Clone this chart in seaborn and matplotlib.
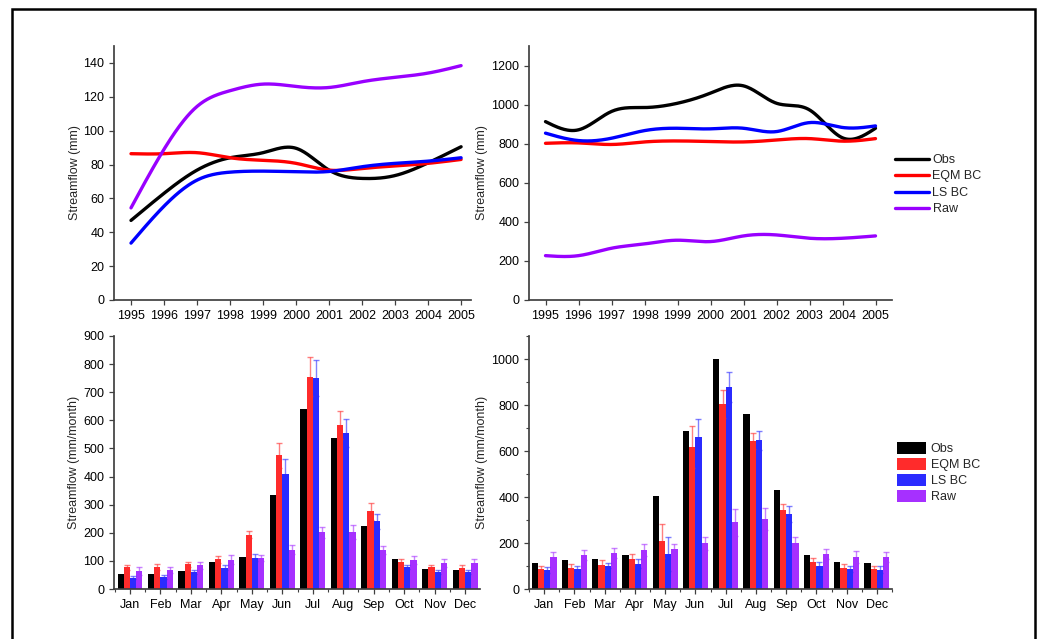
import numpy as np
import pandas as pd
import matplotlib
matplotlib.use("Agg")
import matplotlib.pyplot as plt
import seaborn as sns
from matplotlib.ticker import MultipleLocator
from matplotlib.patches import Patch, Rectangle
from matplotlib.lines import Line2D

sns.set_theme(style="ticks")
plt.rcParams['font.family'] = ['Liberation Sans', 'DejaVu Sans']
plt.rcParams['axes.edgecolor'] = '#404040'
plt.rcParams['xtick.color'] = '#404040'
plt.rcParams['ytick.color'] = '#404040'
plt.rcParams['xtick.labelcolor'] = 'black'
plt.rcParams['ytick.labelcolor'] = 'black'

series = ["Obs", "EQM BC", "LS BC", "Raw"]
years = list(range(1995, 2006))
months = ["Jan", "Feb", "Mar", "Apr", "May", "Jun",
          "Jul", "Aug", "Sep", "Oct", "Nov", "Dec"]

# Annual streamflow (mm), left catchment
obs_l = [47, 63, 76.7, 84, 87, 89.6, 76.7, 71.8, 73.5, 81, 90.5]
eqm_l = [86.4, 86.4, 87, 84, 82.5, 80.7, 76.7, 77.7, 79.1, 80.7, 83]
ls_l = [33.6, 55.4, 70.8, 75.5, 76.1, 75.7, 75.9, 78.7, 80.7, 82, 84]
raw_l = [54.4, 89, 114.3, 123.6, 127.5, 126.1, 125.5, 128.9, 131.5, 134, 138.4]

# Annual streamflow (mm), right catchment
obs_r = [913, 871, 965, 985, 1007, 1059, 1096, 1007, 973, 830, 879]
eqm_r = [802, 804, 796, 809, 814, 811, 809, 819, 826, 813, 826]
ls_r = [854, 816, 828, 867, 879, 876, 879, 862, 908, 883, 891]
raw_r = [227, 227, 265, 287, 306, 299, 328, 333, 316, 316, 328]

# Mean monthly streamflow (mm/month), left catchment
mobs_l = [53, 53, 63, 97, 114, 333, 641, 537, 223, 105, 72, 67]
meqm_l = [77, 78, 88, 106, 193, 475, 755, 583, 277, 97, 77, 74]
mls_l = [40, 42, 60, 75, 112, 408, 750, 555, 241, 78, 60, 60]
mraw_l = [64, 68, 84, 104, 110, 140, 201, 203, 138, 104, 92, 92]
eeqm_l = [10, 10, 9, 12, 12, 43, 70, 51, 30, 11, 10, 12]
els_l = [6, 8, 6, 9, 14, 55, 65, 49, 27, 8, 8, 8]
eraw_l = [13, 12, 13, 16, 12, 15, 21, 24, 14, 15, 13, 13]

# Mean monthly streamflow (mm/month), right catchment
mobs_r = [113, 126, 130, 150, 404, 685, 1000, 763, 429, 147, 117, 113]
meqm_r = [88, 91, 105, 130, 209, 619, 804, 644, 343, 117, 91, 88]
mls_r = [81, 87, 101, 110, 152, 662, 880, 646, 325, 101, 87, 84]
mraw_r = [139, 149, 156, 170, 173, 199, 290, 303, 202, 153, 139, 139]
eeqm_r = [14, 17, 21, 22, 74, 91, 60, 34, 28, 16, 17, 14]
els_r = [13, 11, 10, 20, 72, 78, 65, 41, 34, 16, 11, 14]
eraw_r = [21, 21, 23, 26, 23, 29, 58, 48, 25, 23, 25, 23]

line_colors = {"Obs": "#000000", "EQM BC": "#FF0000",
               "LS BC": "#0000FF", "Raw": "#9900FF"}
bar_colors = {"Obs": "#000000", "EQM BC": "#FF2B2B",
              "LS BC": "#2B2BFF", "Raw": "#A630FF"}


def smooth(x, y, n=300):
    """Natural cubic spline through the yearly values, for a smooth line."""
    x = np.asarray(x, float)
    y = np.asarray(y, float)
    k = len(x)
    h = np.diff(x)
    A = np.zeros((k, k))
    b = np.zeros(k)
    A[0, 0] = A[-1, -1] = 1
    for i in range(1, k - 1):
        A[i, i - 1] = h[i - 1]
        A[i, i] = 2 * (h[i - 1] + h[i])
        A[i, i + 1] = h[i]
        b[i] = 6 * ((y[i + 1] - y[i]) / h[i] - (y[i] - y[i - 1]) / h[i - 1])
    M = np.linalg.solve(A, b)
    xs = np.linspace(x[0], x[-1], n)
    idx = np.clip(np.searchsorted(x, xs) - 1, 0, k - 2)
    x0, x1 = x[idx], x[idx + 1]
    hh = x1 - x0
    t0, t1 = x1 - xs, xs - x0
    ys = (M[idx] * t0 ** 3 / (6 * hh) + M[idx + 1] * t1 ** 3 / (6 * hh)
          + (y[idx] / hh - M[idx] * hh / 6) * t0
          + (y[idx + 1] / hh - M[idx + 1] * hh / 6) * t1)
    return xs, ys


W, H = 1041, 639
fig = plt.figure(figsize=(W / 100, H / 100), dpi=100)
fig.patch.set_facecolor("white")


def px_axes(left, right, top, bottom):
    return fig.add_axes([left / W, 1 - bottom / H, (right - left) / W, (bottom - top) / H])


ax_tl = px_axes(114, 471, 46, 300)
ax_tr = px_axes(529, 892, 46, 300)
ax_bl = px_axes(114, 480, 336, 589)
ax_br = px_axes(529, 892, 336, 589)

FS = 9


def annual(ax, vals, ylim, step, xlim):
    for name, v in zip(series, vals):
        xs, ys = smooth(years, v)
        df = pd.DataFrame({"Year": xs, "Streamflow": ys})
        sns.lineplot(data=df, x="Year", y="Streamflow", color=line_colors[name],
                     lw=2.4, ax=ax, legend=False)
    ax.set_xlim(*xlim)
    ax.set_ylim(*ylim)
    ax.set_xticks(years)
    ax.yaxis.set_major_locator(MultipleLocator(step))
    ax.set_xlabel("")
    ax.set_ylabel("Streamflow (mm)", fontsize=FS)
    ax.tick_params(labelsize=FS, length=3.5, width=0.9, direction="out")
    sns.despine(ax=ax)


annual(ax_tl, [obs_l, eqm_l, ls_l, raw_l], (0, 150), 20, (1994.485, 2005.3))
annual(ax_tr, [obs_r, eqm_r, ls_r, raw_r], (0, 1300), 200, (1994.5, 2005.5))


def monthly(ax, vals, errs, ylim, step, xlim):
    rows = []
    for name, v in zip(series, vals):
        for m, val in zip(months, v):
            rows.append({"Month": m, "Series": name, "Streamflow": val})
    df = pd.DataFrame(rows)
    sns.barplot(data=df, x="Month", y="Streamflow", hue="Series", order=months,
                hue_order=series, palette=bar_colors, saturation=1, width=0.82,
                errorbar=None, ax=ax, legend=False, linewidth=0)
    for cont, name in zip(ax.containers, series):
        if name not in errs:
            continue
        xs = [p.get_x() + p.get_width() / 2 for p in cont.patches]
        hs = [p.get_height() for p in cont.patches]
        ax.errorbar(xs, hs, yerr=errs[name], fmt="none", ecolor=bar_colors[name],
                    elinewidth=1.0, capsize=2.3, capthick=1.0, alpha=0.6)
    ax.set_xlim(*xlim)
    ax.set_ylim(*ylim)
    ax.yaxis.set_major_locator(MultipleLocator(step))
    ax.xaxis.set_minor_locator(MultipleLocator(1, offset=0.5))
    ax.set_xlabel("")
    ax.set_ylabel("Streamflow (mm/month)", fontsize=FS)
    ax.tick_params(labelsize=FS, length=3.5, width=0.9, direction="out")
    ax.tick_params(which="minor", length=2.5, width=0.8, color="#404040")
    sns.despine(ax=ax)


monthly(ax_bl, [mobs_l, meqm_l, mls_l, mraw_l],
        {"EQM BC": eeqm_l, "LS BC": els_l, "Raw": eraw_l},
        (0, 900), 100, (-0.525, 11.49))
monthly(ax_br, [mobs_r, meqm_r, mls_r, mraw_r],
        {"EQM BC": eeqm_r, "LS BC": els_r, "Raw": eraw_r},
        (0, 1100), 200, (-0.5, 11.5))
ax_br.yaxis.set_minor_locator(MultipleLocator(100))
ax_br.tick_params(axis="y", which="minor", length=2.5)

for ax in (ax_tl, ax_bl):
    ax.yaxis.set_label_coords(-0.093, 0.5)
for ax in (ax_tr, ax_br):
    ax.yaxis.set_label_coords(-0.113, 0.5)

# Legends
line_handles = [Line2D([], [], color=line_colors[s], lw=2.4) for s in series]
fig.legend(line_handles, series, loc="upper left",
           bbox_to_anchor=(890 / W, 1 - 149 / H), frameon=False, fontsize=FS,
           handlelength=2.7, handletextpad=0.3, labelspacing=0.36, borderaxespad=0)

bar_handles = [Patch(facecolor=bar_colors[s], edgecolor="none") for s in series]
fig.legend(bar_handles, series, loc="upper left",
           bbox_to_anchor=(892 / W, 1 - 437 / H), frameon=False, fontsize=FS,
           handlelength=2.35, handleheight=1.05, handletextpad=0.35,
           labelspacing=0.24, borderaxespad=0)

# Outer frame
fig.add_artist(Rectangle((12 / W, -0.05), (1035 - 12) / W, 1.05 - 9 / H,
                         transform=fig.transFigure, fill=False,
                         lw=1.8, edgecolor="black", clip_on=False))

fig.savefig("out.png", dpi=100)
